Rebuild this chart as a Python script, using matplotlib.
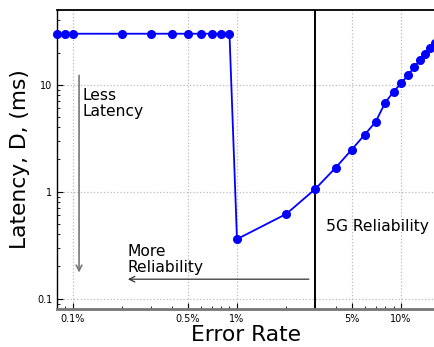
import numpy as np
import matplotlib
matplotlib.use("Agg")
import matplotlib.pyplot as plt
from matplotlib.ticker import FixedLocator, NullFormatter, LogLocator

# error rate (%) and latency (ms)
err = [0.08, 0.09, 0.1, 0.2, 0.3, 0.4, 0.5, 0.6, 0.7, 0.8, 0.9,
       1, 2, 3, 4, 5, 6, 7, 8, 9, 10, 11, 12, 13, 14, 15, 16]
lat = [30, 30, 30, 30, 30, 30, 30, 30, 30, 30, 30,
       0.36, 0.62, 1.06, 1.68, 2.47, 3.41, 4.5, 6.8, 8.6, 10.3,
       12.3, 14.5, 16.9, 19.5, 22.0, 24.7]

xticks = [0.1, 0.5, 1, 5, 10]
xticklabels = ["0.1%", "0.5%", "1%", "5%", "10%"]
yticks = [0.1, 1, 10]
yticklabels = ["0.1", "1", "10"]
target = 3  # 5G reliability line (%)

fig = plt.figure(figsize=(4.35, 3.47), dpi=100)
ax = fig.add_axes([57 / 435, 1 - 309 / 347, 1 - 57 / 435 + 0.001, 299 / 347])

ax.plot(err, lat, color="blue", marker="o", markersize=5.5, lw=1.3, clip_on=False, zorder=3)
ax.axvline(target, color="black", lw=1.4)

ax.set_xscale("log")
ax.set_yscale("log")
ax.set_xlim(0.08, 16.2)
ax.set_ylim(0.08, 50)

ax.xaxis.set_major_locator(FixedLocator(xticks))
ax.set_xticklabels(xticklabels)
ax.xaxis.set_minor_locator(LogLocator(base=10, subs=np.arange(2, 10)))
ax.xaxis.set_minor_formatter(NullFormatter())
ax.yaxis.set_major_locator(FixedLocator(yticks))
ax.set_yticklabels(yticklabels)
ax.yaxis.set_minor_locator(LogLocator(base=10, subs=np.arange(2, 10)))
ax.yaxis.set_minor_formatter(NullFormatter())

ax.tick_params(which="both", direction="in", labelsize=7, top=False, right=False)
ax.tick_params(which="major", length=4)
ax.tick_params(which="minor", length=2)
ax.grid(True, which="major", ls=":", color="#bbbbbb", lw=0.9)

ax.spines["right"].set_visible(False)
ax.spines["bottom"].set_color("#777777")
ax.spines["bottom"].set_linewidth(2)
ax.spines["top"].set_linewidth(1.3)
ax.spines["left"].set_linewidth(1.0)

ax.set_xlabel("Error Rate", fontsize=15.7, labelpad=1)
ax.set_ylabel("Latency, D, (ms)", fontsize=15.7, labelpad=5)

# annotations
ax.annotate("", xy=(0.109, 0.165), xytext=(0.109, 13),
            arrowprops=dict(arrowstyle="->", color="#777777", lw=1.2))
ax.text(0.114, 9.4, "Less\nLatency", fontsize=11.2, va="top", ha="left", linespacing=1.1)
ax.annotate("", xy=(0.208, 0.152), xytext=(2.85, 0.152),
            arrowprops=dict(arrowstyle="->", color="#333333", lw=0.9))
ax.text(0.215, 0.167, "More\nReliability", fontsize=11.2, va="bottom", ha="left", linespacing=1.05)
ax.text(3.5, 0.47, "5G Reliability", fontsize=11.2, va="center", ha="left")

fig.savefig("out.png", dpi=100)
